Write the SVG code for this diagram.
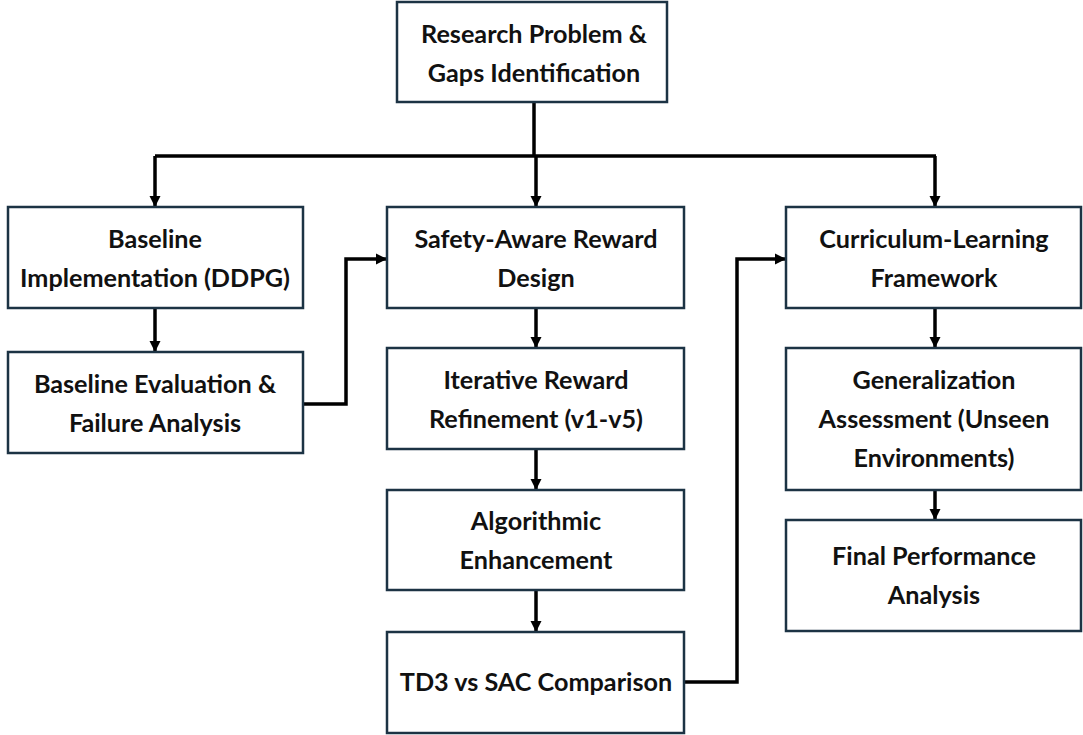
<svg xmlns="http://www.w3.org/2000/svg" width="1083" height="735" viewBox="0 0 1083 735">
<defs>
<style>
.box{fill:#ffffff;stroke:#1c3344;stroke-width:2.5}
.lbl{font-family:Lato,"Open Sans","Liberation Sans",sans-serif;font-weight:bold;font-size:25.2px;fill:#111111;text-anchor:middle}
.con{fill:none;stroke:#000000;stroke-width:3.5;marker-end:url(#arr)}
.ln{fill:none;stroke:#000000;stroke-width:3.5}
</style>
<marker id="arr" viewBox="0 0 10 10" refX="10" refY="5" markerWidth="3.2" markerHeight="3.2" orient="auto" markerUnits="strokeWidth">
<path d="M0,0 L10,5 L0,10 z" fill="#000000"/>
</marker>
</defs>
<rect width="1083" height="735" fill="#ffffff"/>
<g id="connectors">
<path class="ln" d="M534,102 V156"/>
<path class="ln" d="M155,156 H936"/>
<path class="con" d="M155,156 V207"/>
<path class="con" d="M536,156 V207"/>
<path class="con" d="M935,156 V207"/>
<path class="con" d="M155,308 V352"/>
<path class="con" d="M303,404 H346 V259 H387"/>
<path class="con" d="M536,308 V348"/>
<path class="con" d="M536,449 V490"/>
<path class="con" d="M536,590 V632"/>
<path class="con" d="M684,682 H737 V259 H786"/>
<path class="con" d="M935,308 V348"/>
<path class="con" d="M935,490 V520"/>
</g>
<g id="n-research">
<rect class="box" x="397" y="2" width="270" height="100"/>
<text class="lbl" x="534" y="43">Research Problem &amp;</text>
<text class="lbl" x="534" y="82">Gaps Identification</text>
</g>
<g id="n-baseline-impl">
<rect class="box" x="8" y="207" width="295" height="101"/>
<text class="lbl" x="155" y="248">Baseline</text>
<text class="lbl" x="155" y="287">Implementation (DDPG)</text>
</g>
<g id="n-baseline-eval">
<rect class="box" x="8" y="352" width="295" height="101"/>
<text class="lbl" x="155" y="393">Baseline Evaluation &amp;</text>
<text class="lbl" x="155" y="432">Failure Analysis</text>
</g>
<g id="n-safety">
<rect class="box" x="387" y="207" width="297" height="101"/>
<text class="lbl" x="536" y="248">Safety-Aware Reward</text>
<text class="lbl" x="536" y="287">Design</text>
</g>
<g id="n-iterative">
<rect class="box" x="387" y="348" width="297" height="101"/>
<text class="lbl" x="536" y="389">Iterative Reward</text>
<text class="lbl" x="536" y="428">Refinement (v1-v5)</text>
</g>
<g id="n-algorithmic">
<rect class="box" x="387" y="490" width="297" height="100"/>
<text class="lbl" x="536" y="530">Algorithmic</text>
<text class="lbl" x="536" y="569">Enhancement</text>
</g>
<g id="n-td3">
<rect class="box" x="387" y="632" width="297" height="101"/>
<text class="lbl" x="536" y="691">TD3 vs SAC Comparison</text>
</g>
<g id="n-curriculum">
<rect class="box" x="786" y="207" width="295" height="101"/>
<text class="lbl" x="934" y="248">Curriculum-Learning</text>
<text class="lbl" x="934" y="287">Framework</text>
</g>
<g id="n-generalization">
<rect class="box" x="786" y="348" width="295" height="142"/>
<text class="lbl" x="934" y="389">Generalization</text>
<text class="lbl" x="934" y="428">Assessment (Unseen</text>
<text class="lbl" x="934" y="467">Environments)</text>
</g>
<g id="n-final">
<rect class="box" x="786" y="520" width="295" height="111"/>
<text class="lbl" x="934" y="565">Final Performance</text>
<text class="lbl" x="934" y="604">Analysis</text>
</g>
</svg>
